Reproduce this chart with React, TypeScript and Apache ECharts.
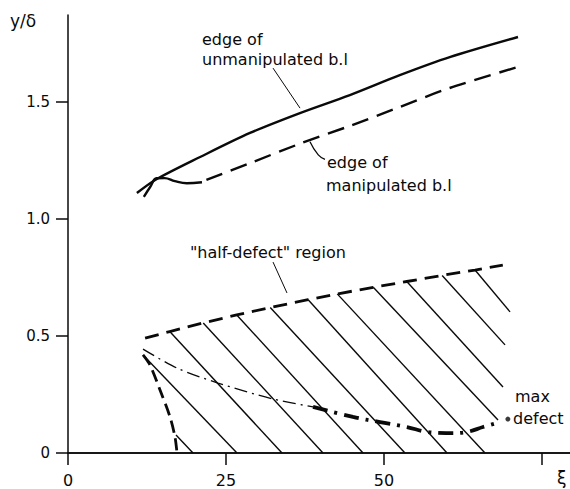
import React, { useEffect, useRef } from "react";
import * as echarts from "echarts";

// Edge of the unmanipulated boundary layer (solid)
const unmanipX = [10.9, 13.8, 20.9, 28.8, 36.7, 44.6, 52.5, 60.4, 71.2];
const unmanipY = [1.111, 1.167, 1.265, 1.368, 1.453, 1.53, 1.615, 1.692, 1.778];

// Edge of the manipulated boundary layer: solid start, then dashed
const manipSolidX = [12.0, 13.0, 14.0, 15.3, 16.9, 18.8, 21.2];
const manipSolidY = [1.095, 1.137, 1.174, 1.175, 1.162, 1.153, 1.157];
const manipDashX = [21.9, 28.8, 36.7, 44.6, 52.5, 60.4, 71.2];
const manipDashY = [1.167, 1.239, 1.322, 1.398, 1.479, 1.56, 1.65];

// Upper edge of the "half-defect" region (dashed)
const halfX = [12.2, 16.1, 21.4, 26.7, 32.0, 38.0, 42.6, 48.3, 53.6, 59.2, 64.4, 68.8];
const halfY = [0.491, 0.519, 0.556, 0.59, 0.622, 0.655, 0.68, 0.708, 0.733, 0.759, 0.782, 0.803];

// Left edge of the region (dashed)
const leftX = [11.87, 12.97, 14.56, 16.14, 16.93, 17.25];
const leftY = [0.419, 0.376, 0.269, 0.154, 0.068, 0];

// Max-defect trajectory (dash-dot), thin then thick
const defectThinX = [11.87, 17.25, 23.73, 32.44, 38.77];
const defectThinY = [0.444, 0.363, 0.299, 0.231, 0.197];
const defectThickX = [38.77, 45.09, 49.37, 53.64, 56.8, 60.44, 63.13, 65.66, 68.35];
const defectThickY = [0.197, 0.154, 0.132, 0.111, 0.09, 0.085, 0.09, 0.111, 0.132];
const defectEnd = [69.6, 0.145];

// Hatching inside the region: start and end of each stroke
const hatchX0 = [17.09, 11.87, 16.1, 21.4, 26.7, 32.0, 38.0, 42.6, 48.3, 53.6, 59.2, 64.4];
const hatchY0 = [0.077, 0.419, 0.519, 0.556, 0.59, 0.622, 0.655, 0.68, 0.708, 0.733, 0.759, 0.782];
const hatchX1 = [19.78, 26.74, 33.86, 40.35, 46.68, 53.32, 59.97, 65.98, 68.04, 68.83, 69.15, 69.94];
const hatchY1 = [0, 0, 0, 0, 0, 0, 0, 0, 0.141, 0.282, 0.462, 0.603];

// Leader lines from the labels to their curves
const leaderUnmanipX = [32.44, 36.71];
const leaderUnmanipY = [1.645, 1.474];
const leaderManipX = [38.29, 39.6, 40.66];
const leaderManipY = [1.33, 1.274, 1.255];
const leaderHalfX = [32.44, 34.65];
const leaderHalfY = [0.816, 0.684];

// Axes
const xMax = 79.43;
const yMax = 1.872;
const xTicks = [0, 25, 50, 75];
const xTickLabels = ["0", "25", "50", ""];
const yTickLabels = ["0", "0.5", "1.0", "1.5"];

const INK = "#0a0a0a";
const FONT = "DejaVu Sans";

const zip = (xs: number[], ys: number[]) => xs.map((x, i) => [x, ys[i]]);

function lineSeries(data: number[][], width: number, type: any, smooth: number | boolean = false) {
  return {
    type: "line",
    data,
    showSymbol: false,
    symbol: "none",
    smooth,
    silent: true,
    lineStyle: { color: INK, width, type, cap: "butt" },
  };
}

export default function App() {
  const ref = useRef<HTMLDivElement>(null);

  useEffect(() => {
    if (!ref.current) return;
    const chart = echarts.init(ref.current, undefined, { renderer: "svg" });

    const hatchSeries = hatchX0.map((x0, i) =>
      lineSeries(
        [
          [x0, hatchY0[i]],
          [hatchX1[i], hatchY1[i]],
        ],
        1.4,
        "solid"
      )
    );

    const text = (t: string, x: number, y: number, size = 16) => ({
      type: "text",
      x,
      y,
      style: {
        text: t,
        fill: INK,
        font: `${size}px "${FONT}"`,
        textAlign: "left",
        textVerticalAlign: "middle",
      },
    });

    chart.setOption({
      animation: false,
      backgroundColor: "#fff",
      grid: { left: 68, right: 0, top: 15, bottom: 36, containLabel: false },
      xAxis: [
        {
          type: "value",
          min: 0,
          max: xMax,
          interval: 25,
          position: "bottom",
          splitLine: { show: false },
          axisLine: { show: true, onZero: false, lineStyle: { color: INK, width: 1.5 } },
          axisTick: { show: true, length: 12, lineStyle: { color: INK, width: 1.5 } },
          axisLabel: {
            margin: 19,
            color: INK,
            fontFamily: FONT,
            fontSize: 16,
            showMaxLabel: false,
            formatter: (v: number) => {
              const i = xTicks.indexOf(v);
              return i >= 0 ? xTickLabels[i] : "";
            },
          },
        },
        {
          type: "value",
          min: 0,
          max: xMax,
          position: "top",
          splitLine: { show: false },
          axisLine: { show: true, lineStyle: { color: INK, width: 1.5 } },
          axisTick: { show: false },
          axisLabel: { show: false },
        },
      ],
      yAxis: {
        type: "value",
        min: 0,
        max: yMax,
        interval: 0.5,
        splitLine: { show: false },
        axisLine: { show: true, onZero: false, lineStyle: { color: INK, width: 1.5 } },
        axisTick: { show: true, length: 12, lineStyle: { color: INK, width: 1.5 } },
        axisLabel: {
          margin: 18,
          color: INK,
          fontFamily: FONT,
          fontSize: 15,
          showMaxLabel: false,
          formatter: (v: number) => {
            const i = Math.round(v / 0.5);
            return Math.abs(v - i * 0.5) < 1e-6 && i < yTickLabels.length ? yTickLabels[i] : "";
          },
        },
      },
      series: [
        lineSeries(zip(unmanipX, unmanipY), 2.4, "solid", 0.3),
        lineSeries(zip(manipSolidX, manipSolidY), 2.4, "solid", 0.4),
        lineSeries(zip(manipDashX, manipDashY), 2.4, [17, 9], 0.3),
        lineSeries(zip(halfX, halfY), 2.8, [14, 8], false),
        lineSeries(zip(leftX, leftY), 2.8, [12, 6], 0.3),
        lineSeries(zip(defectThinX, defectThinY), 1.3, [13, 5, 2, 5], 0.3),
        lineSeries(zip(defectThickX, defectThickY), 3.8, [15, 7, 3, 7], 0.4),
        ...hatchSeries,
        lineSeries(zip(leaderUnmanipX, leaderUnmanipY), 1, "solid"),
        lineSeries(zip(leaderManipX, leaderManipY), 1.3, "solid", 0.5),
        lineSeries(zip(leaderHalfX, leaderHalfY), 1, "solid"),
        {
          type: "scatter",
          data: [defectEnd],
          symbol: "circle",
          symbolSize: 5,
          silent: true,
          itemStyle: { color: INK },
        },
      ],
      graphic: [
        text("y/δ", 10, 21, 17),
        text("edge of", 202, 39),
        text("unmanipulated b.l", 202, 59),
        text("edge of", 327, 162),
        text("manipulated b.l", 326, 185),
        text("\"half-defect\" region", 190, 252),
        text("max", 515, 396),
        text("defect", 513, 418),
        text("ξ", 557, 478, 17),
      ],
    });

    return () => chart.dispose();
  }, []);

  return (
    <div
      ref={ref}
      style={{ position: "fixed", left: 0, top: 0, width: 570, height: 489, background: "#fff" }}
    />
  );
}
